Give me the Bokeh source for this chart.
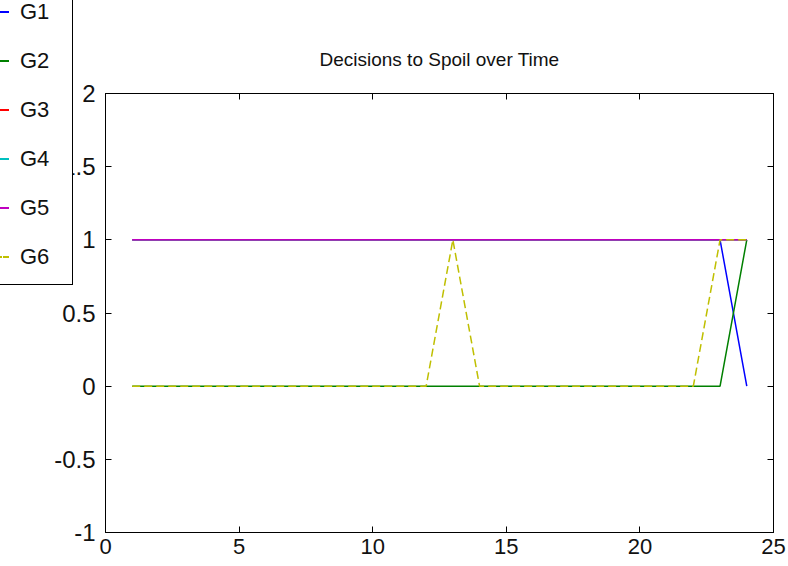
from bokeh.plotting import figure
from bokeh.layouts import column
from bokeh.models import LinearAxis, FixedTicker, Range1d, Div
from bokeh.embed import file_html
from bokeh.resources import INLINE

# ---- data ----
title_text = "Decisions to Spoil over Time"
x_vals = [1, 2, 3, 4, 5, 6, 7, 8, 9, 10, 11, 12, 13, 14, 15, 16, 17, 18, 19, 20, 21, 22, 23, 24]
series_names = ["G1", "G2", "G3", "G4", "G5", "G6"]
g1 = [1, 1, 1, 1, 1, 1, 1, 1, 1, 1, 1, 1, 1, 1, 1, 1, 1, 1, 1, 1, 1, 1, 1, 0]
g2 = [0, 0, 0, 0, 0, 0, 0, 0, 0, 0, 0, 0, 0, 0, 0, 0, 0, 0, 0, 0, 0, 0, 0, 1]
g3 = [1, 1, 1, 1, 1, 1, 1, 1, 1, 1, 1, 1, 1, 1, 1, 1, 1, 1, 1, 1, 1, 1, 1, 1]
g4 = [1, 1, 1, 1, 1, 1, 1, 1, 1, 1, 1, 1, 1, 1, 1, 1, 1, 1, 1, 1, 1, 1, 1, 1]
g5 = [1, 1, 1, 1, 1, 1, 1, 1, 1, 1, 1, 1, 1, 1, 1, 1, 1, 1, 1, 1, 1, 1, 1, 1]
g6 = [0, 0, 0, 0, 0, 0, 0, 0, 0, 0, 0, 0, 1, 0, 0, 0, 0, 0, 0, 0, 0, 0, 1, 1]
x_ticks = [0, 5, 10, 15, 20, 25]
x_tick_labels = ["0", "5", "10", "15", "20", "25"]
y_ticks = [-1, -0.5, 0, 0.5, 1, 1.5, 2]
y_tick_labels = ["-1", "-0.5", "0", "0.5", "1", "1.5", "2"]

# ---- styles ----
colors = ["#0000ff", "#008000", "#ff0000", "#00bfbf", "#bf00bf", "#bfbf00"]
dashes = ["solid", "solid", "solid", "solid", "solid", "8 4"]
FONT = "Liberation Sans"
TEXT_COLOR = "#111111"

p = figure(frame_width=668, frame_height=439,
           min_border_left=105, min_border_right=15, min_border_top=93, min_border_bottom=34,
           x_range=Range1d(0, 25), y_range=Range1d(-1, 2),
           output_backend="svg", toolbar_location=None)
p.xgrid.visible = False
p.ygrid.visible = False
p.outline_line_color = "black"
p.outline_line_width = 1
p.background_fill_color = "white"
p.border_fill_color = "white"

p.title.text = title_text
p.title.align = "center"
p.title.text_font = FONT
p.title.text_font_size = "19px"
p.title.text_font_style = "normal"
p.title.text_color = TEXT_COLOR
p.title.standoff = 48


def style_axis(ax, ticks, labels, size, standoff):
    ax.ticker = FixedTicker(ticks=ticks)
    ax.major_label_overrides = {t: l for t, l in zip(ticks, labels)}
    ax.major_tick_in = 6
    ax.major_tick_out = 0
    ax.minor_tick_line_color = None
    ax.axis_line_color = "black"
    ax.major_tick_line_color = "black"
    ax.major_label_text_font = FONT
    ax.major_label_text_font_size = size
    ax.major_label_text_color = TEXT_COLOR
    ax.major_label_standoff = standoff


style_axis(p.xaxis[0], x_ticks, x_tick_labels, "22px", 6)
style_axis(p.yaxis[0], y_ticks, y_tick_labels, "24px", 10)

top_ax = LinearAxis()
style_axis(top_ax, x_ticks, ["" for _ in x_ticks], "0px", 0)
right_ax = LinearAxis()
style_axis(right_ax, y_ticks, ["" for _ in y_ticks], "0px", 0)
p.add_layout(top_ax, "above")
p.add_layout(right_ax, "right")

series = [g1, g2, g3, g4, g5, g6]
for ys, c, d in zip(series, colors, dashes):
    p.line(x_vals, ys, line_color=c, line_width=1.5, line_dash=d)

# ---- legend box, overlapping the top-left corner as in the original ----
rows = []
for i, (n, c, d) in enumerate(zip(series_names, colors, dashes)):
    style = "dashed" if d != "solid" else "solid"
    rows.append(
        f'<div style="position:absolute;left:17px;top:{17 + i * 49}px;height:26px;'
        f'line-height:26px;white-space:nowrap;">'
        f'<span style="display:inline-block;width:20px;height:0;border-top:2px {style} {c};'
        f'vertical-align:middle;"></span>'
        f'<span style="display:inline-block;margin-left:11px;vertical-align:middle;">{n}</span></div>'
    )
legend_html = (
    f'<div style="position:relative;box-sizing:border-box;width:102px;height:305px;'
    f'border:1px solid black;background:white;font-family:\'{FONT}\';font-size:22px;'
    f'color:{TEXT_COLOR};">' + "".join(rows) + "</div>"
)
legend_box = Div(text=legend_html, width=102, height=305,
                 margin=(-586, 0, 0, -29),
                 styles={"position": "relative", "z-index": "10"})

layout = column(p, legend_box)
open("out.html", "w").write(file_html(layout, INLINE))
